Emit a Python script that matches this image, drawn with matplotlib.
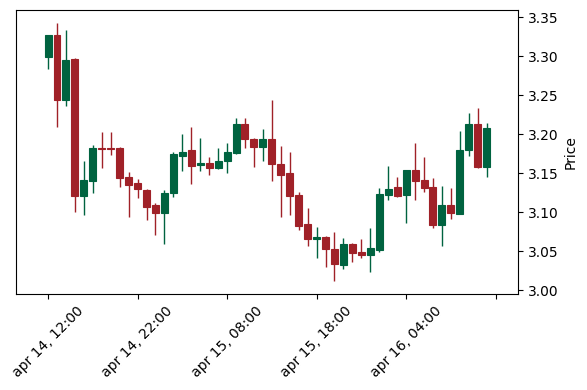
import matplotlib
matplotlib.use("Agg")
import matplotlib.pyplot as plt
import numpy as np

opens = [3.299, 3.327, 3.244, 3.296, 3.121, 3.140, 3.182, 3.182, 3.182, 3.145,
         3.137, 3.128, 3.109, 3.099, 3.125, 3.172, 3.180, 3.160, 3.163, 3.156,
         3.165, 3.176, 3.213, 3.194, 3.183, 3.194, 3.162, 3.150, 3.122, 3.085,
         3.065, 3.068, 3.053, 3.032, 3.059, 3.049, 3.045, 3.051, 3.122, 3.132,
         3.122, 3.154, 3.141, 3.132, 3.084, 3.109, 3.098, 3.179, 3.213, 3.158]
highs = [3.327, 3.342, 3.334, 3.298, 3.166, 3.186, 3.202, 3.202, 3.183, 3.151,
         3.142, 3.130, 3.112, 3.128, 3.177, 3.200, 3.209, 3.195, 3.171, 3.182,
         3.189, 3.221, 3.221, 3.195, 3.206, 3.243, 3.185, 3.177, 3.126, 3.105,
         3.081, 3.069, 3.074, 3.067, 3.060, 3.065, 3.079, 3.131, 3.159, 3.145,
         3.154, 3.188, 3.171, 3.143, 3.134, 3.131, 3.204, 3.227, 3.234, 3.214]
lows = [3.283, 3.209, 3.236, 3.100, 3.096, 3.124, 3.156, 3.173, 3.132, 3.094,
        3.118, 3.090, 3.071, 3.059, 3.119, 3.153, 3.136, 3.153, 3.147, 3.155,
        3.150, 3.175, 3.182, 3.158, 3.165, 3.140, 3.093, 3.096, 3.077, 3.056,
        3.041, 3.030, 3.012, 3.027, 3.036, 3.041, 3.023, 3.049, 3.115, 3.119,
        3.086, 3.116, 3.126, 3.079, 3.056, 3.091, 3.097, 3.172, 3.157, 3.145]
closes = [3.327, 3.243, 3.295, 3.121, 3.141, 3.182, 3.181, 3.181, 3.144, 3.135,
          3.129, 3.107, 3.099, 3.124, 3.174, 3.177, 3.159, 3.163, 3.157, 3.165,
          3.177, 3.213, 3.194, 3.184, 3.194, 3.161, 3.148, 3.121, 3.082, 3.065,
          3.068, 3.053, 3.033, 3.059, 3.048, 3.045, 3.054, 3.123, 3.130, 3.121,
          3.154, 3.140, 3.131, 3.084, 3.109, 3.099, 3.180, 3.213, 3.158, 3.208]

tick_positions = [0, 10, 20, 30, 40, 50]
tick_labels = ["apr 14, 12:00", "apr 14, 22:00", "apr 15, 08:00",
               "apr 15, 18:00", "apr 16, 04:00", ""]

UP = "#006340"
DOWN = "#a02128"

o = np.array(opens); h = np.array(highs); l = np.array(lows); c = np.array(closes)
x = np.arange(len(o))
colors = [UP if cc >= oo else DOWN for oo, cc in zip(o, c)]

fig = plt.figure(figsize=(5.87, 3.90), dpi=100)
ax = fig.add_axes([16/587, (390-294)/390, (518-16)/587, (294-10)/390])

ax.vlines(x, l, h, colors=colors, linewidth=1.0, zorder=2)
bottoms = np.minimum(o, c)
heights = np.abs(c - o)
ax.bar(x, heights, width=0.78, bottom=bottoms, color=colors,
       edgecolor=colors, linewidth=0.8, zorder=3)

ax.set_xlim(-3.58, 52.5)
ax.set_ylim(2.9949, 3.359)
ax.set_xticks(tick_positions)
ax.set_xticklabels(tick_labels, rotation=45)
ax.set_yticks([3.00, 3.05, 3.10, 3.15, 3.20, 3.25, 3.30, 3.35])
ax.yaxis.tick_right()
ax.yaxis.set_label_position("right")
ax.set_ylabel("Price")

fig.savefig("out.png", dpi=100)
